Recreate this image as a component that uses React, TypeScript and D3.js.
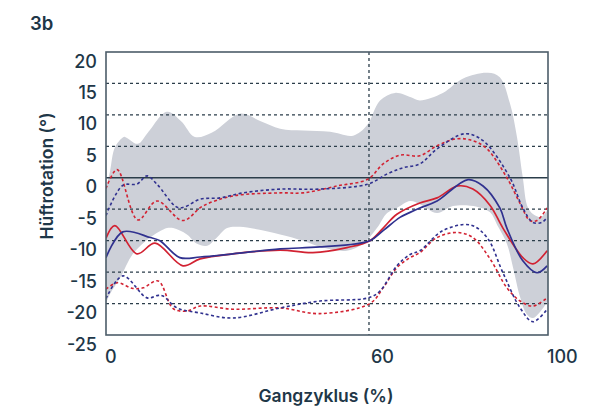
import React from "react";
import * as d3 from "d3";

type P = [number, number];

const yTicks = [20, 15, 10, 5, 0, -5, -10, -15, -20, -25];
const xTicks = [0, 60, 100];
const gridValues = [15, 10, 5, -5, -10, -15, -20];
const markerX = 59.5;

const bandUpper: P[] = [[0,-1.6],[0.9,1],[2,4.8],[3.8,6.4],[4.3,6.5],[7.2,5.4],[9.5,7.2],[13.8,10.5],[17,9],[20.1,6.5],[24,7.2],[30.3,10.2],[35,9],[39.4,7.8],[44.6,7.5],[50.7,7.3],[55.9,6.7],[59,8.3],[62,12.3],[65.4,13.5],[69,12.8],[71,12.3],[76.2,13.5],[80.8,15.8],[86.4,16.7],[89.1,16],[91.4,11.8],[93,6.4],[94.3,0],[95.5,-4.8],[97.1,-6],[98.5,-6.2],[100,-5]];
const bandLower: P[] = [[0,-20],[0.9,-18.5],[3.2,-15.9],[6.1,-12.1],[10,-9.5],[13.8,-8],[15.2,-8],[18.3,-9],[20.6,-10.5],[22.9,-10.8],[25.1,-9.5],[27.4,-8],[30.3,-7.8],[39.4,-9],[44.6,-10],[49.1,-11.1],[54.5,-11.6],[58.1,-10.5],[61.3,-8],[63.6,-5.6],[65.8,-4.8],[68.8,-3.7],[71,-4.2],[74.9,-5.6],[78.5,-4.5],[83.9,-4.6],[86.9,-5.5],[88.5,-7.5],[90.7,-10.5],[92.1,-14.3],[93.7,-19],[95.2,-21.7],[96.6,-22.3],[98.9,-20.7],[100,-19.5]];

const redMean: P[] = [[0,-9.6],[2,-7.6],[7,-12.1],[11.1,-10.4],[17.4,-14],[21.3,-12.9],[28.7,-12.1],[39.4,-11.5],[46.8,-11.9],[54.5,-11.1],[59.7,-10],[62.7,-8],[65.8,-5.8],[71,-4],[74.9,-3.2],[79.6,-1.3],[83,-1.8],[86.9,-4.4],[89.8,-8],[94.3,-12.7],[96.6,-13.7],[99.8,-11.6]];
const blueMean: P[] = [[0,-12.7],[3.8,-8.6],[10,-9.5],[12.2,-10],[16.7,-12.7],[21.3,-12.6],[28.7,-12.1],[39.4,-11.3],[48.4,-11],[59.7,-10],[62.7,-8.4],[66.5,-6.3],[68.8,-5.5],[71,-4.8],[74.9,-3.7],[81.9,-0.3],[85.3,-1.3],[89.1,-4.8],[90.7,-8],[94.3,-13.2],[97.5,-15.1],[99.8,-14]];

const redUpper: P[] = [[0,-1.7],[2.5,1.3],[7.2,-6.7],[11.5,-3.7],[17.4,-6.8],[21.9,-4.5],[28.7,-2.9],[39.4,-2.4],[44.6,-2.4],[52.3,-1.3],[59.3,-0.2],[62.7,2.2],[66.5,3.6],[71,3.5],[74.9,5.1],[79.4,6.2],[83,5.9],[86.2,4.6],[90.7,0],[93.7,-4.1],[95.9,-6.8],[97.5,-6.8],[99.8,-4.8]];
const blueUpper: P[] = [[0,-6],[3.8,-1.2],[7,-1],[9.3,0.3],[11.5,-1],[16.1,-4.7],[17.9,-4.6],[21.3,-3.4],[25.8,-3.2],[31,-2.4],[39.4,-1.8],[48.4,-1.8],[59.3,-1],[63.6,0.6],[67.2,1.6],[71,2.2],[74.9,4.6],[81.2,7],[85.3,5.9],[91.4,0],[94.3,-4.8],[96.6,-7.1],[98.6,-7.1],[99.8,-6.3]];
const redLower: P[] = [[0,-17.7],[2.5,-16.7],[6.1,-17.6],[8.4,-17.5],[11.8,-16.4],[15.2,-20.8],[18.3,-21.2],[21.3,-20.4],[28.7,-20.9],[39.4,-20.7],[48.4,-21.6],[59.7,-20],[62.7,-17.5],[65.8,-14.3],[68.8,-12.7],[71,-11.9],[74.9,-9.5],[79.4,-8.7],[83,-9.5],[86.9,-12.9],[90.7,-17.5],[93.7,-19.6],[96.6,-20.4],[99.8,-19.1]];
const blueLower: P[] = [[0,-19.2],[3.8,-15.6],[9.3,-19.1],[11.8,-18.7],[12.9,-18.8],[16.1,-20.7],[21.3,-21.5],[28.7,-22.3],[39.4,-20.7],[48.4,-19.6],[59.3,-19.1],[62,-18],[65.8,-14],[68.8,-12.2],[71,-11.6],[76.2,-8.4],[82.4,-7.5],[86.2,-9.5],[89.8,-15.1],[93.7,-20.7],[96.6,-22.9],[99.8,-20.9]];

const L = 106, R = 548, T = 52, B = 335;
const RED = "#d22232";
const BLUE = "#30318f";
const GRID = "#2b3d4a";
const TEXT = "#1e3748";
const FONT = "Inter, 'Open Sans', sans-serif";

export default function App() {
  const x = d3.scaleLinear().domain([0, 100]).range([L, R]);
  const y = d3.scaleLinear().domain([-25, 20]).range([B, T]);
  const line = d3.line<P>().x(d => x(d[0])).y(d => y(d[1])).curve(d3.curveCatmullRom.alpha(0.5));
  const upPath = line(bandUpper) || "";
  const lowPath = line([...bandLower].reverse()) || "";
  const bandPath = upPath + "L" + lowPath.slice(1) + "Z";

  return (
    <svg width={614} height={408} style={{ position: "absolute", left: 0, top: 0 }}>
      <rect width={614} height={408} fill="#fff" />
      <defs>
        <clipPath id="plot"><rect x={L} y={T} width={R - L} height={B - T} /></clipPath>
      </defs>
      <text x={30} y={30} fontFamily={FONT} fontSize={18.5} fontWeight={600} fill={TEXT}>3b</text>
      <g clipPath="url(#plot)">
        <path d={bandPath} fill="#cdd0d8" />
      </g>
      {gridValues.map(v => (
        <line key={v} x1={L} x2={R} y1={y(v)} y2={y(v)} stroke={GRID} strokeWidth={1.3} strokeDasharray="3,3" />
      ))}
      <line x1={x(markerX)} x2={x(markerX)} y1={T} y2={B} stroke={GRID} strokeWidth={1.3} strokeDasharray="3,3" />
      <line x1={L} x2={R} y1={y(0)} y2={y(0)} stroke={GRID} strokeWidth={1.5} />
      <g clipPath="url(#plot)" fill="none">
        <path d={line(redUpper) || ""} stroke={RED} strokeWidth={1.6} strokeDasharray="3,2.5" />
        <path d={line(blueUpper) || ""} stroke={BLUE} strokeWidth={1.6} strokeDasharray="3,2.5" />
        <path d={line(redLower) || ""} stroke={RED} strokeWidth={1.6} strokeDasharray="3,2.5" />
        <path d={line(blueLower) || ""} stroke={BLUE} strokeWidth={1.6} strokeDasharray="3,2.5" />
        <path d={line(redMean) || ""} stroke={RED} strokeWidth={1.7} />
        <path d={line(blueMean) || ""} stroke={BLUE} strokeWidth={1.7} />
      </g>
      <rect x={L} y={T} width={R - L} height={B - T} fill="none" stroke="#4d5d69" strokeWidth={1.6} />
      {yTicks.map(v => (
        <text key={v} x={97} y={y(v) + 15.5} textAnchor="end" fontFamily={FONT} fontSize={18} fontWeight={500} fill={TEXT}>{v}</text>
      ))}
      {xTicks.map(v => (
        <text key={v} x={v === 60 ? x(markerX) + 2 : x(v) - 1} y={363} textAnchor="start" fontFamily={FONT} fontSize={18} fontWeight={500} fill={TEXT}>{v}</text>
      ))}
      <text x={326} y={402} textAnchor="middle" fontFamily={FONT} fontSize={17.5} fontWeight={600} fill={TEXT}>Gangzyklus (%)</text>
      <text transform={`translate(53,176) rotate(-90)`} textAnchor="middle" fontFamily={FONT} fontSize={17.5} fontWeight={600} fill={TEXT}>Hüftrotation (°)</text>
    </svg>
  );
}
